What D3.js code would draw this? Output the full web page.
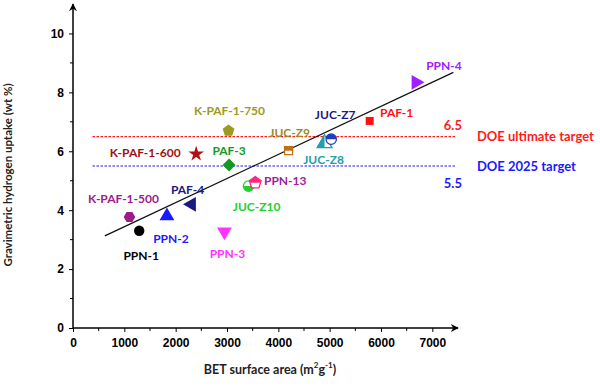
<!DOCTYPE html>
<html>
<head>
<meta charset="utf-8">
<script src="https://cdn.jsdelivr.net/npm/d3@7"></script>
<style>
  body { margin: 0; background: #fff; }
  text { font-family: Lato, "Open Sans", sans-serif; font-weight: bold; }
  .tick text { font-family: "Liberation Sans", Arial, sans-serif; font-size: 12px; font-weight: bold; }
</style>
</head>
<body>
<div id="chart"></div>
<script>
// materials, BET surface area (m2/g), H2 uptake (wt %)
var names  = ["PPN-1", "K-PAF-1-500", "PPN-2", "PAF-4", "PPN-3", "K-PAF-1-600", "K-PAF-1-750", "PAF-3",
              "JUC-Z10", "PPN-13", "JUC-Z9", "JUC-Z8", "JUC-Z7", "PAF-1", "PPN-4"];
var bet    = [1290, 1100, 1830, 2310, 2950, 2400, 3030, 3040, 3420, 3550, 4200, 4900, 5030, 5780, 6680];
var uptake = [3.30, 3.77, 3.80, 4.20, 3.27, 5.91, 6.70, 5.53, 4.82, 4.93, 6.02, 6.27, 6.41, 7.03, 8.34];

// linear fit ends
var fitX = [620, 7410];
var fitY = [3.13, 8.68];

// DOE targets
var doeNames  = ["DOE ultimate target", "DOE 2025 target"];
var doeValues = [6.5, 5.5];
var doeRange  = [380, 7460];

var xTicks = [0, 1000, 2000, 3000, 4000, 5000, 6000, 7000];
var yTicks = [0, 2, 4, 6, 8, 10];

// marker style per point
var shapes  = ["circle", "hexagon", "triUp", "triLeft", "triDown", "star", "pentagon", "diamond",
               "circle", "pentagon", "square", "triUp", "circle", "square", "triRight"];
var markerColors = ["#000000", "#9c1c8c", "#1a1aff", "#1a1a80", "#ff33ff", "#b01010", "#9c9a20", "#109a20",
                    "#20d030", "#ff2a80", "#c07010", "#20a0a8", "#1a40c0", "#ff1010", "#a020ff"];
var labelColors  = ["#000000", "#9c1c8c", "#1a1aff", "#1a1a80", "#ff33ff", "#a01010", "#9c9a20", "#109a20",
                    "#20d030", "#a020a0", "#a08a20", "#20a0a8", "#1a1a80", "#ff1010", "#a020ff"];
var halves = [null, null, null, null, null, null, null, null, "bottom", "top", "top", "left", "top", null, null];
var labelOffsets = [[2, 25], [-6, -18], [4, 22], [-4, -15], [3, 22], [-51, -1], [1, -20], [0, -15],
                    [8, 20], [30, -2], [1, -18], [-1, 16], [4, -25], [27, -8], [28, -17]];
var doeColors = ["#ff1a1a", "#1a1aff"];

var width = 600, height = 387;

var x = d3.scaleLinear().domain([0, 7500]).range([73, 458]);
var y = d3.scaleLinear().domain([0, 11]).range([328, 4]);

var svg = d3.select("#chart").append("svg")
  .attr("width", width)
  .attr("height", height);

var defs = svg.append("defs");
defs.append("marker")
  .attr("id", "arrow")
  .attr("viewBox", "0 0 10 10")
  .attr("refX", 9).attr("refY", 5)
  .attr("markerWidth", 8).attr("markerHeight", 8)
  .attr("markerUnits", "userSpaceOnUse")
  .attr("orient", "auto")
  .append("path")
  .attr("d", "M0,0 L10,5 L0,10 L3,5 Z")
  .attr("fill", "#000");

// axes
var xAxis = svg.append("g")
  .attr("transform", "translate(0," + y(0) + ")")
  .call(d3.axisBottom(x).tickValues(xTicks).tickSize(4).tickPadding(6).tickFormat(d3.format("d")));
xAxis.select(".domain").remove();
xAxis.selectAll(".minor").data(d3.range(500, 7500, 1000)).enter()
  .append("line").attr("class", "minor")
  .attr("x1", function(d) { return x(d); }).attr("x2", function(d) { return x(d); })
  .attr("y1", 0).attr("y2", 3).attr("stroke", "#000");

var yAxis = svg.append("g")
  .attr("transform", "translate(" + x(0) + ",0)")
  .call(d3.axisLeft(y).tickValues(yTicks).tickSize(4).tickPadding(5));
yAxis.select(".domain").remove();
yAxis.selectAll(".minor").data([1, 3, 5, 7, 9]).enter()
  .append("line").attr("class", "minor")
  .attr("y1", function(d) { return y(d); }).attr("y2", function(d) { return y(d); })
  .attr("x1", 0).attr("x2", -3).attr("stroke", "#000");

svg.append("line")
  .attr("x1", x(0)).attr("x2", x(7500)).attr("y1", y(0)).attr("y2", y(0))
  .attr("stroke", "#000").attr("stroke-width", 1.5).attr("marker-end", "url(#arrow)");
svg.append("line")
  .attr("x1", x(0)).attr("x2", x(0)).attr("y1", y(0)).attr("y2", y(11))
  .attr("stroke", "#000").attr("stroke-width", 1.5).attr("marker-end", "url(#arrow)");

// axis titles
svg.append("text")
  .attr("transform", "translate(12," + 175 + ") rotate(-90)")
  .attr("text-anchor", "middle")
  .attr("font-size", "11.5px")
  .attr("fill", "#222")
  .text("Gravimetric hydrogen uptake (wt %)");

var xt = svg.append("text")
  .attr("x", 270).attr("y", 374)
  .attr("text-anchor", "middle")
  .attr("font-size", "12.5px")
  .attr("fill", "#222");
xt.append("tspan").text("BET surface area (m");
xt.append("tspan").attr("font-size", "8px").attr("dy", -6).text("2");
xt.append("tspan").attr("dy", 6).text("g");
xt.append("tspan").attr("font-size", "8px").attr("dy", -6).text("-1");
xt.append("tspan").attr("dy", 6).text(")");

// DOE target lines
doeValues.forEach(function(v, i) {
  svg.append("line")
    .attr("x1", x(doeRange[0])).attr("x2", x(doeRange[1]))
    .attr("y1", y(v)).attr("y2", y(v))
    .attr("stroke", doeColors[i]).attr("stroke-width", 1.2)
    .attr("stroke-dasharray", "2.5,1.5");
  svg.append("text")
    .attr("x", x(doeRange[1]) + 21).attr("y", y(v) + 4.5)
    .attr("font-size", "13px").attr("fill", doeColors[i])
    .text(doeNames[i]);
  svg.append("text")
    .attr("x", x(doeRange[1]) + 6).attr("y", y(v) + (i === 0 ? -7 : 22))
    .attr("text-anchor", "end")
    .attr("font-size", "13px").attr("fill", doeColors[i])
    .text(d3.format(".1f")(v));
});

// fit line
svg.append("line")
  .attr("x1", x(fitX[0])).attr("y1", y(fitY[0]))
  .attr("x2", x(fitX[1])).attr("y2", y(fitY[1]))
  .attr("stroke", "#111").attr("stroke-width", 1.3);

function polygon(n, r, rot) {
  var pts = d3.range(n).map(function(k) {
    var a = rot + k * 2 * Math.PI / n;
    return [r * Math.cos(a), r * Math.sin(a)];
  });
  return "M" + pts.join("L") + "Z";
}

function shapePath(s) {
  switch (s) {
    case "circle": return d3.symbol(d3.symbolCircle, 85)();
    case "hexagon": return polygon(6, 5.8, 0);
    case "pentagon": return polygon(5, 6.2, -Math.PI / 2);
    case "diamond": return polygon(4, 6.5, 0);
    case "square": return d3.symbol(d3.symbolSquare, 64)();
    case "star": return d3.symbol(d3.symbolStar, 75)();
    default: return d3.symbol(d3.symbolTriangle, 95)();
  }
}
var rotations = { triUp: 0, triDown: 180, triLeft: -90, triRight: 90 };

var pts = svg.append("g").selectAll("g")
  .data(names).enter().append("g")
  .attr("transform", function(d, i) { return "translate(" + x(bet[i]) + "," + y(uptake[i]) + ")"; });

pts.each(function(d, i) {
  var g = d3.select(this);
  var rot = rotations[shapes[i]] || 0;
  var p = shapePath(shapes[i]);
  if (!halves[i]) {
    g.append("path").attr("d", p).attr("transform", "rotate(" + rot + ")")
      .attr("fill", markerColors[i]);
    return;
  }
  var cid = "clip" + i;
  var r = { top: [-10, -10, 20, 10], bottom: [-10, 0, 20, 10], left: [-10, -10, 10, 20] }[halves[i]];
  defs.append("clipPath").attr("id", cid).append("rect")
    .attr("x", r[0]).attr("y", r[1]).attr("width", r[2]).attr("height", r[3]);
  g.append("path").attr("d", p).attr("fill", "#fff")
    .attr("stroke", markerColors[i]).attr("stroke-width", 1.3);
  g.append("path").attr("d", p).attr("fill", markerColors[i])
    .attr("clip-path", "url(#" + cid + ")");
});

// point labels
svg.append("g").selectAll("text")
  .data(names).enter().append("text")
  .attr("x", function(d, i) { return x(bet[i]) + labelOffsets[i][0]; })
  .attr("y", function(d, i) { return y(uptake[i]) + labelOffsets[i][1] + 4.5; })
  .attr("text-anchor", "middle")
  .attr("font-size", "12px")
  .attr("fill", function(d, i) { return labelColors[i]; })
  .text(function(d) { return d; });
</script>
</body>
</html>
